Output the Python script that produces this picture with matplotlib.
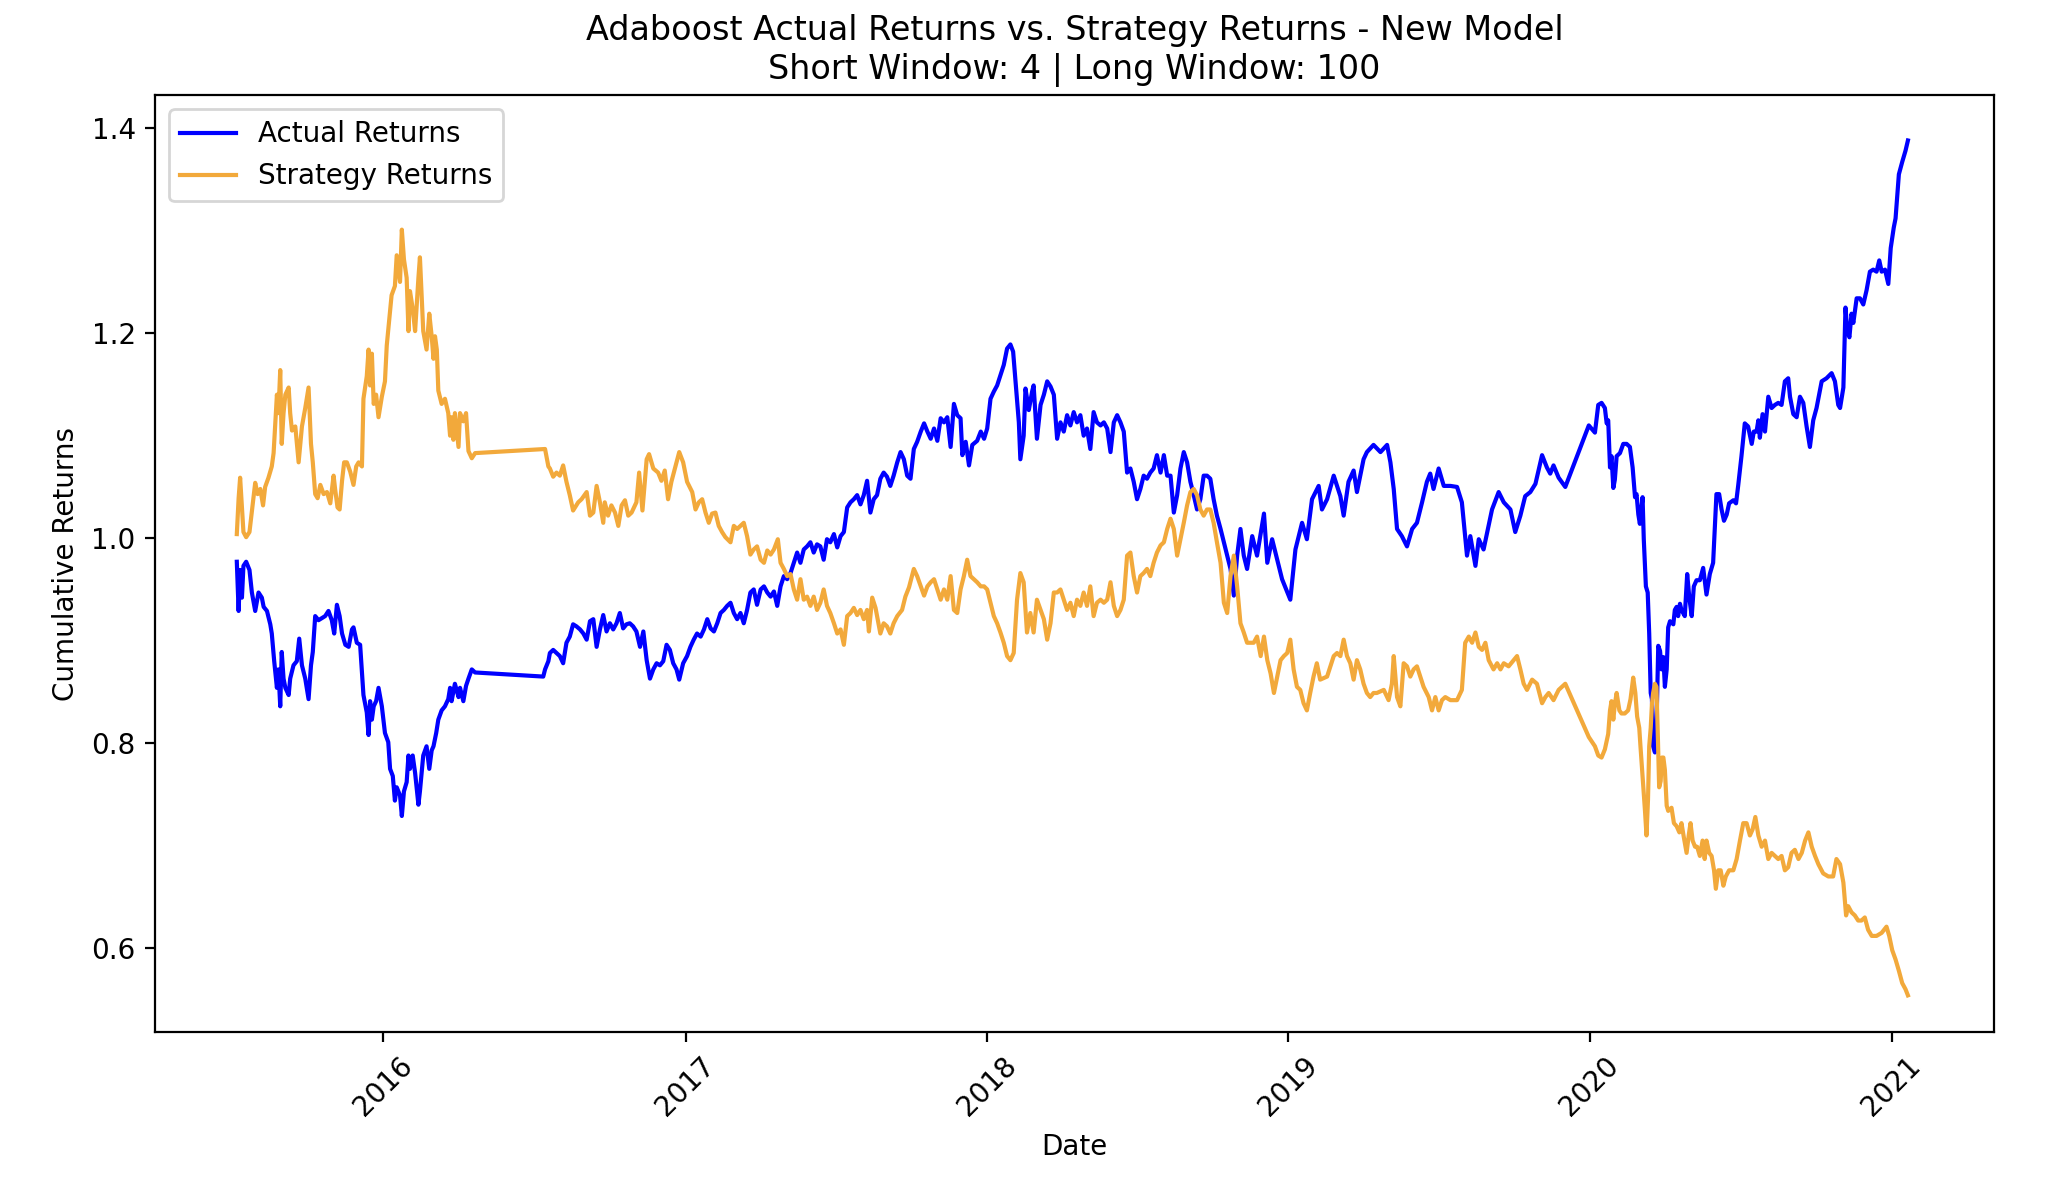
import matplotlib
matplotlib.use("Agg")
import matplotlib.pyplot as plt
import matplotlib.dates as mdates
from matplotlib.ticker import MultipleLocator
import pandas as pd

# Cumulative returns, dates as decimal years
actual_years = [
    2015.513, 2015.519, 2015.524, 2015.530, 2015.535, 2015.544, 2015.555, 2015.563, 2015.574, 2015.585,
    2015.596, 2015.602, 2015.613, 2015.624, 2015.629, 2015.637, 2015.646, 2015.651, 2015.657, 2015.662,
    2015.668, 2015.674, 2015.685, 2015.690, 2015.701, 2015.712, 2015.720, 2015.729, 2015.740, 2015.751,
    2015.759, 2015.765, 2015.773, 2015.784, 2015.795, 2015.806, 2015.817, 2015.828, 2015.836, 2015.845,
    2015.854, 2015.862, 2015.873, 2015.884, 2015.895, 2015.900, 2015.911, 2015.922, 2015.933, 2015.944,
    2015.950, 2015.955, 2015.961, 2015.967, 2015.975, 2015.983, 2015.994, 2016.005, 2016.016, 2016.022,
    2016.031, 2016.038, 2016.044, 2016.055, 2016.061, 2016.068, 2016.077, 2016.083, 2016.088, 2016.097,
    2016.105, 2016.116, 2016.121, 2016.132, 2016.143, 2016.152, 2016.160, 2016.166, 2016.175, 2016.182,
    2016.193, 2016.204, 2016.215, 2016.221, 2016.226, 2016.237, 2016.249, 2016.254, 2016.265, 2016.274,
    2016.282, 2016.293, 2016.304, 2016.530, 2016.536, 2016.547,
    2016.552, 2016.563, 2016.574, 2016.585, 2016.596, 2016.607, 2016.618, 2016.629, 2016.640, 2016.652,
    2016.663, 2016.674, 2016.685, 2016.696, 2016.707, 2016.718, 2016.729, 2016.740, 2016.751, 2016.762,
    2016.773, 2016.784, 2016.795, 2016.806, 2016.817, 2016.828, 2016.839, 2016.851, 2016.862, 2016.873,
    2016.884, 2016.895, 2016.906, 2016.917, 2016.928, 2016.939, 2016.950, 2016.961, 2016.972, 2016.981,
    2016.994, 2017.005, 2017.016, 2017.027, 2017.038, 2017.050, 2017.061, 2017.072, 2017.083, 2017.094,
    2017.105, 2017.116, 2017.127, 2017.138, 2017.149, 2017.160, 2017.171, 2017.182, 2017.193, 2017.204,
    2017.215, 2017.226, 2017.237, 2017.249, 2017.260, 2017.271, 2017.282, 2017.293, 2017.304, 2017.315,
    2017.326, 2017.337, 2017.348, 2017.359, 2017.370, 2017.381, 2017.392, 2017.403, 2017.414, 2017.425,
    2017.436, 2017.447, 2017.458, 2017.469, 2017.480, 2017.492, 2017.503, 2017.514, 2017.525, 2017.536,
    2017.547, 2017.558, 2017.569, 2017.580, 2017.591, 2017.602, 2017.613, 2017.624, 2017.635, 2017.646,
    2017.657, 2017.668, 2017.679, 2017.690, 2017.702, 2017.713, 2017.724, 2017.735, 2017.746,
    2017.757, 2017.768, 2017.780, 2017.791, 2017.802, 2017.813, 2017.824, 2017.835, 2017.846, 2017.857,
    2017.868, 2017.879, 2017.890, 2017.901, 2017.912, 2017.918, 2017.929, 2017.940, 2017.951, 2017.967,
    2017.979, 2017.990, 2018.001, 2018.012, 2018.023, 2018.034, 2018.045, 2018.056, 2018.067, 2018.078,
    2018.087, 2018.095, 2018.106, 2018.111, 2018.122, 2018.128, 2018.139, 2018.150, 2018.155, 2018.166,
    2018.178, 2018.189, 2018.200, 2018.211, 2018.222, 2018.233, 2018.244, 2018.255, 2018.266, 2018.277,
    2018.288, 2018.299, 2018.310, 2018.321, 2018.332, 2018.343, 2018.354, 2018.365, 2018.377, 2018.388,
    2018.399, 2018.410, 2018.421, 2018.432, 2018.443, 2018.454, 2018.465, 2018.476, 2018.487, 2018.498,
    2018.509, 2018.520, 2018.531, 2018.542, 2018.553, 2018.564, 2018.576, 2018.587, 2018.598, 2018.609,
    2018.620, 2018.631, 2018.642, 2018.653, 2018.664, 2018.675, 2018.686, 2018.697, 2018.708, 2018.719,
    2018.730, 2018.741, 2018.752, 2018.763, 2018.775, 2018.786, 2018.797, 2018.808, 2018.819, 2018.830,
    2018.841, 2018.852, 2018.863,
    2018.880, 2018.896, 2018.919, 2018.930, 2018.946, 2018.963, 2018.979, 2019.007, 2019.024, 2019.046,
    2019.062, 2019.079, 2019.101, 2019.112, 2019.129, 2019.151, 2019.173, 2019.184, 2019.200, 2019.217,
    2019.228, 2019.250, 2019.261, 2019.283, 2019.306, 2019.328, 2019.339, 2019.350, 2019.361, 2019.377,
    2019.394, 2019.411, 2019.427, 2019.444, 2019.460, 2019.471, 2019.482, 2019.499, 2019.516, 2019.538,
    2019.560, 2019.576, 2019.587, 2019.593, 2019.604, 2019.621, 2019.632, 2019.648, 2019.676, 2019.698,
    2019.715, 2019.737, 2019.753, 2019.770, 2019.786, 2019.803, 2019.820, 2019.842, 2019.858, 2019.869,
    2019.880, 2019.897, 2019.919, 2019.997,
    2020.018, 2020.029, 2020.040, 2020.051, 2020.057, 2020.062, 2020.068, 2020.073, 2020.079, 2020.084,
    2020.090, 2020.101, 2020.112, 2020.123, 2020.134, 2020.143, 2020.151, 2020.156, 2020.162, 2020.167,
    2020.176, 2020.180, 2020.187, 2020.193, 2020.198, 2020.203, 2020.207, 2020.211, 2020.217, 2020.222,
    2020.228, 2020.234, 2020.239, 2020.245, 2020.250, 2020.256, 2020.261, 2020.267, 2020.278, 2020.283,
    2020.289, 2020.294, 2020.300, 2020.305, 2020.316, 2020.324, 2020.331, 2020.339, 2020.346, 2020.355,
    2020.366, 2020.377, 2020.388, 2020.399, 2020.410, 2020.421, 2020.430, 2020.438, 2020.446, 2020.455,
    2020.463, 2020.477, 2020.486, 2020.493, 2020.504, 2020.515, 2020.526, 2020.538, 2020.545, 2020.554,
    2020.560, 2020.565, 2020.574, 2020.582, 2020.593, 2020.604, 2020.615, 2020.626, 2020.637, 2020.648,
    2020.659, 2020.665, 2020.676, 2020.687, 2020.698, 2020.709, 2020.720, 2020.731, 2020.742, 2020.753,
    2020.770, 2020.786, 2020.803, 2020.814, 2020.825, 2020.831, 2020.842, 2020.849, 2020.855, 2020.862,
    2020.869, 2020.875, 2020.886, 2020.897, 2020.908, 2020.919, 2020.930, 2020.941, 2020.952, 2020.961,
    2020.969, 2020.980, 2020.991, 2020.999, 2021.007, 2021.013, 2021.024, 2021.035, 2021.046, 2021.054,
]
actual_values = [
    0.977, 0.929, 0.969, 0.942, 0.973, 0.977, 0.969, 0.947, 0.929, 0.947,
    0.942, 0.933, 0.929, 0.916, 0.907, 0.880, 0.854, 0.872, 0.836, 0.889,
    0.863, 0.854, 0.847, 0.863, 0.876, 0.880, 0.902, 0.876, 0.863, 0.843,
    0.876, 0.889, 0.924, 0.920, 0.922, 0.924, 0.929, 0.920, 0.907, 0.935,
    0.924, 0.907, 0.896, 0.894, 0.911, 0.913, 0.898, 0.896, 0.847, 0.830,
    0.808, 0.841, 0.823, 0.836, 0.841, 0.854, 0.836, 0.810, 0.801, 0.775,
    0.768, 0.744, 0.757, 0.749, 0.729, 0.753, 0.762, 0.788, 0.775, 0.788,
    0.771, 0.740, 0.753, 0.788, 0.797, 0.775, 0.793, 0.797, 0.810, 0.823,
    0.832, 0.836, 0.843, 0.854, 0.841, 0.858, 0.845, 0.854, 0.841, 0.856,
    0.863, 0.872, 0.869, 0.865, 0.872, 0.880,
    0.888, 0.891, 0.888, 0.885, 0.878, 0.898, 0.904, 0.916, 0.914, 0.911,
    0.907, 0.901, 0.919, 0.921, 0.894, 0.911, 0.925, 0.909, 0.917, 0.911,
    0.917, 0.927, 0.912, 0.916, 0.917, 0.914, 0.909, 0.894, 0.909, 0.881,
    0.863, 0.872, 0.878, 0.876, 0.880, 0.896, 0.891, 0.878, 0.872, 0.862,
    0.878, 0.885, 0.894, 0.901, 0.907, 0.904, 0.911, 0.921, 0.912, 0.909,
    0.917, 0.927, 0.930, 0.934, 0.937, 0.927, 0.921, 0.927, 0.917, 0.930,
    0.947, 0.950, 0.935, 0.950, 0.953, 0.947, 0.943, 0.948, 0.934, 0.953,
    0.963, 0.960, 0.966, 0.976, 0.986, 0.976, 0.989, 0.992, 0.996, 0.986,
    0.994, 0.992, 0.979, 0.999, 0.996, 1.004, 0.991, 1.002, 1.006, 1.030,
    1.035, 1.038, 1.042, 1.033, 1.042, 1.056, 1.025, 1.038, 1.042, 1.058,
    1.064, 1.060, 1.051, 1.061, 1.074, 1.084, 1.077, 1.061, 1.058,
    1.087, 1.094, 1.104, 1.112, 1.104, 1.097, 1.107, 1.095, 1.117, 1.113,
    1.118, 1.089, 1.131, 1.120, 1.117, 1.081, 1.094, 1.071, 1.091, 1.095,
    1.104, 1.097, 1.107, 1.136, 1.143, 1.149, 1.159, 1.169, 1.185, 1.189,
    1.182, 1.153, 1.113, 1.077, 1.100, 1.146, 1.125, 1.143, 1.149, 1.097,
    1.130, 1.140, 1.153, 1.148, 1.140, 1.097, 1.113, 1.104, 1.120, 1.110,
    1.123, 1.113, 1.120, 1.100, 1.107, 1.087, 1.123, 1.113, 1.110, 1.113,
    1.107, 1.084, 1.113, 1.120, 1.113, 1.104, 1.064, 1.068, 1.055, 1.038,
    1.048, 1.061, 1.058, 1.064, 1.068, 1.081, 1.064, 1.081, 1.061, 1.061,
    1.025, 1.042, 1.068, 1.084, 1.074, 1.055, 1.042, 1.028, 1.038, 1.061,
    1.061, 1.058, 1.038, 1.022, 1.009, 0.996, 0.983, 0.970, 0.944, 0.983,
    1.009, 0.983, 0.970,
    1.002, 0.983, 1.024, 0.976, 0.999, 0.979, 0.960, 0.940, 0.989, 1.015,
    0.999, 1.038, 1.051, 1.028, 1.038, 1.061, 1.041, 1.022, 1.055, 1.066,
    1.045, 1.077, 1.084, 1.091, 1.084, 1.091, 1.074, 1.048, 1.009, 1.002,
    0.992, 1.009, 1.015, 1.035, 1.055, 1.063, 1.048, 1.068, 1.051, 1.051,
    1.050, 1.035, 1.002, 0.983, 1.002, 0.973, 0.999, 0.989, 1.028, 1.045,
    1.035, 1.028, 1.006, 1.022, 1.041, 1.045, 1.053, 1.081, 1.069, 1.063,
    1.071, 1.059, 1.050, 1.110,
    1.103, 1.130, 1.132, 1.127, 1.112, 1.115, 1.069, 1.080, 1.049, 1.057,
    1.080, 1.083, 1.092, 1.092, 1.089, 1.069, 1.040, 1.043, 1.023, 1.014,
    1.040, 0.999, 0.953, 0.947, 0.907, 0.849, 0.843, 0.797, 0.791, 0.814,
    0.895, 0.890, 0.872, 0.884, 0.855, 0.872, 0.913, 0.919, 0.916, 0.930,
    0.933, 0.924, 0.936, 0.930, 0.924, 0.965, 0.942, 0.924, 0.953, 0.959,
    0.959, 0.971, 0.945, 0.965, 0.976, 1.043, 1.043, 1.028, 1.017, 1.023,
    1.034, 1.037, 1.034, 1.051, 1.080, 1.112, 1.109, 1.092, 1.104, 1.104,
    1.115, 1.098, 1.121, 1.104, 1.138, 1.127, 1.130, 1.132, 1.130, 1.153,
    1.156, 1.138, 1.121, 1.118, 1.138, 1.132, 1.109, 1.089, 1.115, 1.127,
    1.153, 1.156, 1.161, 1.153, 1.130, 1.127, 1.147, 1.225, 1.202, 1.196,
    1.219, 1.210, 1.234, 1.234, 1.228, 1.242, 1.260, 1.262, 1.260, 1.271,
    1.260, 1.262, 1.248, 1.283, 1.303, 1.312, 1.355, 1.367, 1.378, 1.388,
]

strategy_years = [
    2015.513, 2015.519, 2015.524, 2015.530, 2015.535, 2015.544, 2015.555, 2015.563, 2015.574, 2015.582,
    2015.591, 2015.600, 2015.607, 2015.618, 2015.629, 2015.635, 2015.640, 2015.646, 2015.651, 2015.657,
    2015.662, 2015.668, 2015.674, 2015.685, 2015.690, 2015.696, 2015.707, 2015.718, 2015.729, 2015.740,
    2015.751, 2015.759, 2015.765, 2015.773, 2015.781, 2015.790, 2015.801, 2015.812, 2015.823, 2015.834,
    2015.839, 2015.847, 2015.854, 2015.862, 2015.869, 2015.878, 2015.889, 2015.900, 2015.909, 2015.917,
    2015.928, 2015.933, 2015.944, 2015.950, 2015.955, 2015.961, 2015.967, 2015.975, 2015.983, 2015.994,
    2016.005, 2016.011, 2016.020, 2016.027, 2016.038, 2016.044, 2016.055, 2016.061, 2016.068, 2016.077,
    2016.083, 2016.088, 2016.097, 2016.105, 2016.116, 2016.121, 2016.132, 2016.143, 2016.152, 2016.160,
    2016.166, 2016.171, 2016.177, 2016.182, 2016.193, 2016.204, 2016.215, 2016.221, 2016.226, 2016.232,
    2016.237, 2016.249, 2016.254, 2016.265, 2016.274, 2016.282, 2016.293, 2016.304, 2016.536, 2016.547,
    2016.552, 2016.563, 2016.574, 2016.585, 2016.596, 2016.607, 2016.618, 2016.629, 2016.646, 2016.657,
    2016.674, 2016.685, 2016.696, 2016.707, 2016.718, 2016.729, 2016.734, 2016.745, 2016.756, 2016.768,
    2016.779, 2016.790, 2016.801, 2016.812, 2016.823, 2016.839, 2016.848, 2016.859, 2016.873, 2016.881,
    2016.895, 2016.911, 2016.922, 2016.933, 2016.944, 2016.955, 2016.972, 2016.981, 2016.994, 2017.005,
    2017.022, 2017.033, 2017.044, 2017.055, 2017.066, 2017.077, 2017.088, 2017.099, 2017.110, 2017.121,
    2017.132, 2017.149, 2017.160, 2017.171, 2017.182, 2017.193, 2017.204, 2017.215, 2017.226, 2017.237,
    2017.249, 2017.260, 2017.271, 2017.282, 2017.293, 2017.306, 2017.315, 2017.326, 2017.337, 2017.348,
    2017.359, 2017.370, 2017.381, 2017.392, 2017.403, 2017.414, 2017.425, 2017.436, 2017.447, 2017.458,
    2017.469, 2017.480, 2017.492, 2017.503, 2017.514, 2017.525, 2017.536, 2017.547, 2017.558, 2017.569,
    2017.580, 2017.591, 2017.602, 2017.608, 2017.619, 2017.630, 2017.646, 2017.657, 2017.668, 2017.679,
    2017.690, 2017.702, 2017.718, 2017.729, 2017.741,
    2017.757, 2017.768, 2017.780, 2017.791, 2017.802, 2017.813, 2017.824, 2017.835, 2017.846, 2017.857,
    2017.868, 2017.879, 2017.890, 2017.901, 2017.912, 2017.923, 2017.934, 2017.945, 2017.956, 2017.967,
    2017.979, 2017.990, 2018.001, 2018.012, 2018.023, 2018.034, 2018.045, 2018.056, 2018.067, 2018.078,
    2018.089, 2018.100, 2018.111, 2018.122, 2018.133, 2018.144, 2018.155, 2018.166, 2018.178, 2018.189,
    2018.200, 2018.211, 2018.222, 2018.233, 2018.244, 2018.255, 2018.266, 2018.277, 2018.288, 2018.299,
    2018.310, 2018.321, 2018.332, 2018.343, 2018.354, 2018.365, 2018.377, 2018.388, 2018.399, 2018.410,
    2018.421, 2018.432, 2018.443, 2018.454, 2018.465, 2018.476, 2018.487, 2018.498, 2018.509, 2018.520,
    2018.531, 2018.542, 2018.553, 2018.564, 2018.576, 2018.587, 2018.598, 2018.609, 2018.620, 2018.631,
    2018.642, 2018.653, 2018.664, 2018.675, 2018.686, 2018.697, 2018.708, 2018.719, 2018.730, 2018.741,
    2018.752, 2018.763, 2018.775, 2018.786, 2018.797, 2018.808, 2018.819, 2018.830, 2018.841, 2018.852,
    2018.863,
    2018.885, 2018.896, 2018.908, 2018.919, 2018.930, 2018.941, 2018.952, 2018.963, 2018.974, 2018.985,
    2018.996, 2019.007, 2019.018, 2019.029, 2019.040, 2019.051, 2019.062, 2019.073, 2019.084, 2019.095,
    2019.106, 2019.129, 2019.140, 2019.151, 2019.162, 2019.173, 2019.184, 2019.195, 2019.206, 2019.217,
    2019.228, 2019.239, 2019.250, 2019.261, 2019.272, 2019.283, 2019.294, 2019.317, 2019.333, 2019.344,
    2019.350, 2019.361, 2019.372, 2019.383, 2019.394, 2019.405, 2019.416, 2019.427, 2019.438, 2019.449,
    2019.466, 2019.477, 2019.488, 2019.499, 2019.510, 2019.521, 2019.538, 2019.560, 2019.576, 2019.587,
    2019.599, 2019.610, 2019.621, 2019.632, 2019.643, 2019.654, 2019.665, 2019.681, 2019.693, 2019.704,
    2019.715, 2019.731, 2019.748, 2019.759, 2019.770, 2019.781, 2019.792, 2019.809, 2019.825, 2019.842,
    2019.853, 2019.864, 2019.880, 2019.897, 2019.919, 2019.997,
    2020.018, 2020.029, 2020.040, 2020.051, 2020.062, 2020.068, 2020.073, 2020.079, 2020.084, 2020.090,
    2020.099, 2020.106, 2020.117, 2020.128, 2020.136, 2020.145, 2020.152, 2020.158, 2020.165, 2020.169,
    2020.176, 2020.184, 2020.189, 2020.194, 2020.198, 2020.203, 2020.207, 2020.211, 2020.217, 2020.222,
    2020.227, 2020.231, 2020.236, 2020.240, 2020.245, 2020.250, 2020.256, 2020.261, 2020.272, 2020.280,
    2020.289, 2020.298, 2020.305, 2020.313, 2020.322, 2020.329, 2020.335, 2020.342, 2020.350, 2020.357,
    2020.366, 2020.375, 2020.382, 2020.388, 2020.397, 2020.405, 2020.413, 2020.419, 2020.427, 2020.435,
    2020.444, 2020.452, 2020.463, 2020.477, 2020.488, 2020.499, 2020.510, 2020.521, 2020.532, 2020.541,
    2020.550, 2020.560, 2020.571, 2020.582, 2020.593, 2020.604, 2020.615, 2020.626, 2020.637, 2020.648,
    2020.659, 2020.670, 2020.681, 2020.693, 2020.704, 2020.715, 2020.726, 2020.737, 2020.748, 2020.759,
    2020.775, 2020.792, 2020.808, 2020.819, 2020.831, 2020.842, 2020.851, 2020.858, 2020.869, 2020.880,
    2020.891, 2020.902, 2020.913, 2020.924, 2020.936, 2020.952, 2020.969, 2020.985, 2020.994, 2021.002,
    2021.013, 2021.024, 2021.035, 2021.046, 2021.054,
]
strategy_values = [
    1.004, 1.039, 1.059, 1.030, 1.006, 1.001, 1.006, 1.026, 1.054, 1.043,
    1.048, 1.032, 1.050, 1.059, 1.070, 1.083, 1.109, 1.140, 1.122, 1.164,
    1.092, 1.122, 1.140, 1.147, 1.122, 1.105, 1.109, 1.074, 1.109, 1.127,
    1.147, 1.092, 1.074, 1.043, 1.039, 1.052, 1.043, 1.045, 1.034, 1.061,
    1.048, 1.030, 1.028, 1.056, 1.074, 1.074, 1.065, 1.052, 1.070, 1.074,
    1.070, 1.136, 1.158, 1.184, 1.149, 1.180, 1.131, 1.140, 1.118, 1.138,
    1.153, 1.188, 1.215, 1.237, 1.246, 1.276, 1.250, 1.301, 1.272, 1.254,
    1.202, 1.241, 1.224, 1.202, 1.254, 1.274, 1.202, 1.184, 1.219, 1.197,
    1.175, 1.197, 1.184, 1.144, 1.131, 1.136, 1.122, 1.100, 1.118, 1.096,
    1.122, 1.089, 1.122, 1.114, 1.122, 1.085, 1.078, 1.083, 1.087, 1.070,
    1.068, 1.060, 1.064, 1.061, 1.071, 1.055, 1.042, 1.027, 1.035, 1.038,
    1.045, 1.022, 1.025, 1.051, 1.035, 1.015, 1.035, 1.022, 1.032, 1.025,
    1.012, 1.032, 1.037, 1.022, 1.025, 1.035, 1.064, 1.027, 1.077, 1.082,
    1.068, 1.064, 1.056, 1.066, 1.038, 1.055, 1.074, 1.084, 1.074, 1.055,
    1.045, 1.028, 1.035, 1.038, 1.025, 1.015, 1.024, 1.025, 1.012, 1.006,
    1.001, 0.996, 1.012, 1.009, 1.012, 1.015, 1.002, 0.984, 0.989, 0.992,
    0.979, 0.976, 0.988, 0.984, 0.989, 0.999, 0.976, 0.970, 0.963, 0.965,
    0.950, 0.940, 0.960, 0.940, 0.943, 0.934, 0.943, 0.930, 0.937, 0.950,
    0.934, 0.927, 0.917, 0.907, 0.911, 0.896, 0.924, 0.927, 0.932, 0.925,
    0.930, 0.921, 0.930, 0.909, 0.942, 0.932, 0.907, 0.917, 0.914, 0.907,
    0.917, 0.924, 0.930, 0.943, 0.952,
    0.970, 0.963, 0.953, 0.944, 0.953, 0.957, 0.960, 0.950, 0.940, 0.950,
    0.940, 0.963, 0.930, 0.927, 0.950, 0.963, 0.979, 0.963, 0.960, 0.957,
    0.953, 0.953, 0.950, 0.937, 0.924, 0.917, 0.908, 0.898, 0.885, 0.881,
    0.888, 0.940, 0.966, 0.957, 0.908, 0.927, 0.908, 0.940, 0.930, 0.921,
    0.901, 0.917, 0.947, 0.947, 0.950, 0.940, 0.930, 0.937, 0.924, 0.940,
    0.934, 0.947, 0.934, 0.953, 0.924, 0.937, 0.940, 0.937, 0.940, 0.957,
    0.934, 0.924, 0.930, 0.940, 0.983, 0.986, 0.963, 0.947, 0.963, 0.966,
    0.970, 0.963, 0.976, 0.986, 0.993, 0.996, 1.009, 1.019, 1.009, 0.983,
    0.999, 1.015, 1.032, 1.045, 1.048, 1.042, 1.028, 1.022, 1.028, 1.028,
    1.015, 0.996, 0.976, 0.937, 0.927, 0.963, 0.983, 0.953, 0.917, 0.908,
    0.898,
    0.898, 0.904, 0.885, 0.904, 0.881, 0.868, 0.849, 0.865, 0.881, 0.885,
    0.888, 0.901, 0.872, 0.855, 0.852, 0.839, 0.832, 0.849, 0.865, 0.878,
    0.862, 0.865, 0.875, 0.885, 0.888, 0.885, 0.901, 0.885, 0.878, 0.862,
    0.881, 0.872, 0.858, 0.849, 0.845, 0.849, 0.849, 0.852, 0.842, 0.858,
    0.885, 0.845, 0.836, 0.878, 0.875, 0.865, 0.872, 0.875, 0.865, 0.855,
    0.845, 0.832, 0.845, 0.832, 0.842, 0.845, 0.842, 0.842, 0.852, 0.898,
    0.904, 0.898, 0.908, 0.894, 0.891, 0.898, 0.881, 0.872, 0.878, 0.872,
    0.878, 0.875, 0.881, 0.885, 0.872, 0.858, 0.852, 0.862, 0.858, 0.839,
    0.845, 0.849, 0.842, 0.852, 0.858, 0.806,
    0.797, 0.788, 0.786, 0.794, 0.809, 0.832, 0.841, 0.823, 0.838, 0.849,
    0.832, 0.829, 0.829, 0.832, 0.843, 0.864, 0.849, 0.826, 0.815, 0.797,
    0.768, 0.734, 0.710, 0.745, 0.797, 0.815, 0.838, 0.849, 0.858, 0.855,
    0.803, 0.757, 0.763, 0.786, 0.786, 0.774, 0.739, 0.734, 0.737, 0.722,
    0.719, 0.713, 0.722, 0.708, 0.693, 0.710, 0.722, 0.705, 0.699, 0.699,
    0.690, 0.705, 0.687, 0.705, 0.693, 0.690, 0.676, 0.658, 0.676, 0.676,
    0.661, 0.670, 0.676, 0.676, 0.687, 0.705, 0.722, 0.722, 0.710, 0.716,
    0.728, 0.710, 0.699, 0.705, 0.687, 0.693, 0.690, 0.687, 0.690, 0.676,
    0.679, 0.693, 0.696, 0.687, 0.693, 0.705, 0.713, 0.699, 0.690, 0.682,
    0.673, 0.670, 0.670, 0.687, 0.682, 0.664, 0.632, 0.641, 0.635, 0.632,
    0.627, 0.627, 0.630, 0.618, 0.612, 0.612, 0.615, 0.621, 0.612, 0.598,
    0.589, 0.578, 0.566, 0.560, 0.554,
]

x_limits = (2015.242, 2021.338)
y_limits = (0.518, 1.432)


def to_dates(years):
    # decimal year -> timestamp
    return [pd.Timestamp(int(y), 1, 1) + pd.Timedelta(days=(y - int(y)) * 365.25) for y in years]


fig, ax = plt.subplots(figsize=(10.34, 5.96), dpi=200)
fig.subplots_adjust(left=0.075, right=0.964, top=0.920, bottom=0.134)

ax.plot(to_dates(actual_years), actual_values, color="blue", linewidth=1.5, label="Actual Returns")
ax.plot(to_dates(strategy_years), strategy_values, color="#f2a93b", linewidth=1.5, label="Strategy Returns")

ax.set_xlim(to_dates(x_limits))
ax.set_ylim(*y_limits)
ax.xaxis.set_major_locator(mdates.YearLocator())
ax.xaxis.set_major_formatter(mdates.DateFormatter("%Y"))
ax.yaxis.set_major_locator(MultipleLocator(0.2))
plt.setp(ax.get_xticklabels(), rotation=45)

ax.set_title("Adaboost Actual Returns vs. Strategy Returns - New Model\nShort Window: 4 | Long Window: 100")
ax.set_xlabel("Date")
ax.set_ylabel("Cumulative Returns")
ax.legend(loc="upper left")

fig.savefig("out.png", dpi=200)
